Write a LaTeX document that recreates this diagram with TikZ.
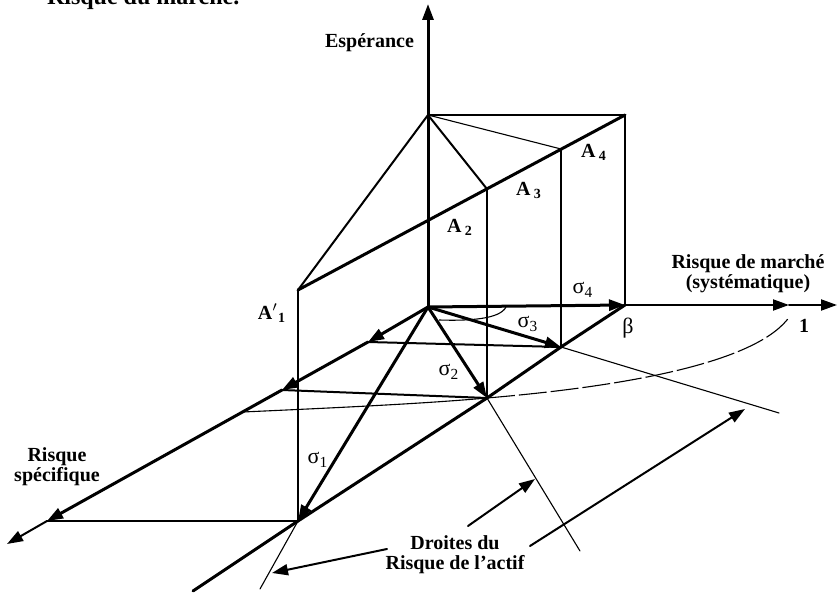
\documentclass[tikz,border=0pt]{standalone}
\usepackage{fontspec}
\setmainfont{Liberation Serif}
\usepackage{tikz}
\usepackage{tkz-euclide}
\usetikzlibrary{arrows.meta}

\begin{document}
\begin{tikzpicture}[x=0.5pt,y=-0.5pt,
    axe/.style={line width=1.5pt},
    moyen/.style={line width=1pt},
    fin/.style={line width=0.55pt},
    fleche/.style={-{Triangle[length=8pt,width=5.5pt]}},
    etiq/.style={font=\bfseries\fontsize{10}{10}\selectfont},
    sig/.style={font=\fontsize{11}{11}\selectfont}]
  \useasboundingbox (0,0) rectangle (837,593);
  \begin{scope}
    \clip (0,0) rectangle (837,593);
    \node[font=\bfseries\fontsize{12}{14}\selectfont,anchor=base west] (titre) at (40,5) {Risque du marché.};
  \end{scope}
  % points
  \tkzDefPoint(428,307){O}
  \tkzDefPoint(428,4){E}
  \tkzDefPoint(428,115){T}
  \tkzDefPoint(625,115){R}
  \tkzDefPoint(625,305){B}
  \tkzDefPoint(298,290){Ap}
  \tkzDefPoint(487,189){A3}
  \tkzDefPoint(561,149){A4}
  \tkzDefPoint(298,521){C1}
  \tkzDefPoint(487,398){C2}
  \tkzDefPoint(561,347){C3}
  \tkzDefPoint(193,591){Bf}
  \tkzDefPoint(368,342){L3}
  \tkzDefPoint(282,390){L2}
  \tkzDefPoint(47,521){L1}
  \tkzDefPoint(7,544){Lf}
  \tkzDefPoint(243,412){K}
  \tkzDefPoint(789,305){U}
  \tkzDefPoint(837,305){Xf}
  \tkzDefPoint(790,316){Q}
  \tkzDefPoint(779,413){D3}
  \tkzDefPoint(580,551){D2}
  \tkzDefPoint(260,589){D1}
  \tkzDefPoint(439,320){M1}
  \tkzDefPoint(506,307){M2}
  % axes
  \tkzDrawSegment[axe,fleche](O,E)
  \tkzDrawSegment[axe,fleche](O,B)
  \tkzDrawSegment[moyen,fleche](B,U)
  \tkzDrawSegment[moyen,fleche](U,Xf)
  \tkzDrawSegment[axe,fleche](O,L3)
  \tkzDrawSegment[axe,fleche](L3,L2)
  \tkzDrawSegment[axe,fleche](L2,L1)
  \tkzDrawSegment[moyen,fleche](L1,Lf)
  % plan vertical
  \tkzDrawSegment[moyen](T,R)
  \tkzDrawSegment[moyen](R,B)
  \tkzDrawSegment[axe](Ap,R)
  \tkzDrawSegment[moyen](T,Ap)
  \tkzDrawSegment[moyen](T,A3)
  \tkzDrawSegment[fin](T,A4)
  \tkzDrawSegment[moyen](Ap,C1)
  \tkzDrawSegment[moyen](A3,C2)
  \tkzDrawSegment[fin](A4,C3)
  % plan horizontal
  \tkzDrawSegments[axe](B,C3 C3,C2 C2,C1 C1,Bf)
  \tkzDrawSegments[moyen](L3,C3 L2,C2 L1,C1)
  \tkzDrawSegment[axe,fleche](O,C1)
  \tkzDrawSegment[axe,fleche](O,C2)
  \tkzDrawSegment[axe,fleche](O,C3)
  \tkzDrawSegments[fin](C3,D3 C2,D2 C1,D1)
  \draw[fin] (K) .. controls (330,408) and (420,404) .. (C2);
  \draw[fin,dash pattern=on 14pt off 2pt] (C2) .. controls (640,385) and (760,360) .. (Q);
  \draw[fin] (M1) .. controls (470,321) and (500,319) .. (M2);
  % textes
  \node[etiq,anchor=east] (esp) at (421,43) {Espérance};
  \node[etiq] (lApr) at (272,313) {A$'$\textsubscript{1}};
  \node[etiq] (lA2) at (460,227) {A\,\textsubscript{2}};
  \node[etiq] (lA3) at (529,190) {A\,\textsubscript{3}};
  \node[etiq] (lA4) at (594,152) {A\,\textsubscript{4}};
  \node[sig] (ls1) at (318,460) {σ\textsubscript{1}};
  \node[sig] (ls2) at (449,372) {σ\textsubscript{2}};
  \node[sig] (ls3) at (528,324) {σ\textsubscript{3}};
  \node[sig] (ls4) at (583,290) {σ\textsubscript{4}};
  \node[sig] (lbeta) at (628,328) {β};
  \node[etiq] (lun) at (804,326) {1};
  \node[etiq,align=center] (marche) at (748,274) {Risque de marché\\(systématique)};
  \node[etiq,align=center] (specif) at (57,467) {Risque\\spécifique};
  \node[etiq,align=center] (droites) at (455,555) {Droites du\\Risque de l'actif};
  % fleches du texte
  \tkzDefPoint(387,549){S1}
  \tkzDefPoint(272,573){P1}
  \tkzDefPoint(468,526){S2}
  \tkzDefPoint(535,479){P2}
  \tkzDefPoint(530,546){S3}
  \tkzDefPoint(745,409){P3}
  \tkzDrawSegment[moyen,fleche](S1,P1)
  \tkzDrawSegment[moyen,fleche](S2,P2)
  \tkzDrawSegment[moyen,fleche](S3,P3)
\end{tikzpicture}
\end{document}
